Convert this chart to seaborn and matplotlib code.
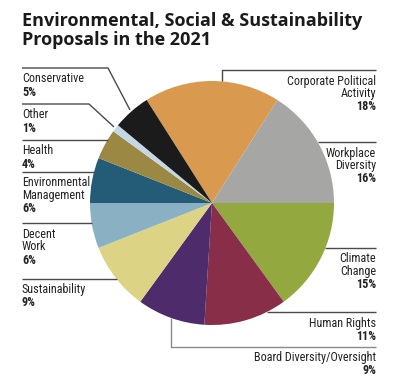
import matplotlib
matplotlib.use("Agg")
import matplotlib.pyplot as plt
from matplotlib import font_manager
import seaborn as sns
import numpy as np

# data
categories = ["Corporate Political\nActivity", "Workplace\nDiversity", "Climate\nChange",
              "Human Rights", "Board Diversity/Oversight", "Sustainability", "Decent\nWork",
              "Environmental\nManagement", "Health", "Other", "Conservative"]
shares = [18, 16, 15, 11, 9, 9, 6, 6, 4, 1, 5]
colors = ["#D99A50", "#A6A6A5", "#93A83E", "#882E48", "#4E2B6A", "#DCD484",
          "#89B1C3", "#245B76", "#9B8943", "#C3D7E5", "#1B1B1B"]

# label layout (pixel coords, y measured from top)
layout = [
    dict(side="right", kind="vert", y=70, x=222),
    dict(side="right", kind="horiz", y=142),
    dict(side="right", kind="horiz", y=248),
    dict(side="right", kind="horiz", y=312),
    dict(side="right", kind="vert", y=347, x=171),
    dict(side="left", kind="horiz", y=279),
    dict(side="left", kind="horiz", y=223),
    dict(side="left", kind="horiz", y=172),
    dict(side="left", kind="horiz", y=140),
    dict(side="left", kind="diag", y=104, x=89),
    dict(side="left", kind="diag", y=68, x=108),
]

sns.set_theme(style="white")

# look for a condensed face for the labels
fonts = font_manager.fontManager.ttflist
label_family, label_stretch = "Liberation Sans", "normal"
names = {f.name for f in fonts}
for cand in ["Liberation Sans Narrow", "Roboto Condensed", "Open Sans Condensed"]:
    if cand in names:
        label_family = cand
        break
else:
    narrow = [f for f in fonts if f.stretch in ("condensed", "semi-condensed", "extra-condensed")
              or "Condensed" in f.name or "Narrow" in f.name]
    if narrow:
        label_family, label_stretch = narrow[0].name, narrow[0].stretch

W, H = 397, 390
CX, CY, R = 212, H - 203, 122
LEFT_X, RIGHT_X = 22, 376

fig = plt.figure(figsize=(W / 100, H / 100), dpi=100)
ax = fig.add_axes([0, 0, 1, 1])

start = 90 + shares[0] * 3.6 / 2
wedges, _ = ax.pie(shares, colors=colors, startangle=start, counterclock=False,
                   center=(CX, CY), radius=R, wedgeprops=dict(linewidth=0))
ax.set_xlim(0, W)
ax.set_ylim(0, H)
ax.set_aspect("equal")
ax.axis("off")

for w, name, pct, lay in zip(wedges, categories, shares, layout):
    ly = H - lay["y"]
    side = lay["side"]
    edge_x = LEFT_X if side == "left" else RIGHT_X
    line_c = "#4a4a4a"
    if lay["kind"] == "horiz":
        dx = np.sqrt(R ** 2 - (ly - CY) ** 2)
        px = CX - dx if side == "left" else CX + dx
        xs, ys = [edge_x, px], [ly, ly]
    elif lay["kind"] == "vert":
        x = lay["x"]
        dy = np.sqrt(R ** 2 - (x - CX) ** 2)
        py = CY + dy if ly > CY else CY - dy
        xs, ys = [x, x, edge_x], [py, ly, ly]
        if ly < CY:
            line_c = "#8a8a8a"
    else:
        mid = np.deg2rad((w.theta1 + w.theta2) / 2)
        ax_, ay_ = CX + (R + 2) * np.cos(mid), CY + (R + 2) * np.sin(mid)
        xs, ys = [edge_x, lay["x"], ax_], [ly, ly, ay_]
    ax.plot(xs, ys, color=line_c, lw=1, solid_capstyle="butt")

    ha = "left" if side == "left" else "right"
    ty = ly - 11
    for ln in name.split("\n"):
        ax.text(edge_x, ty, ln, ha=ha, va="center", fontsize=8.7, color="#222222",
                family=label_family, stretch=label_stretch)
        ty -= 13
    ax.text(edge_x, ty, f"{pct}%", ha=ha, va="center", fontsize=8.7, color="#222222",
            family=label_family, stretch=label_stretch, fontweight="bold")

ax.text(LEFT_X, H - 12, "Environmental, Social & Sustainability\nProposals in the 2021",
        ha="left", va="top", fontsize=13, fontweight="bold", color="#1a1a1a",
        family=["Open Sans", "DejaVu Sans"], linespacing=1.05)

fig.savefig("out.png", dpi=100)
